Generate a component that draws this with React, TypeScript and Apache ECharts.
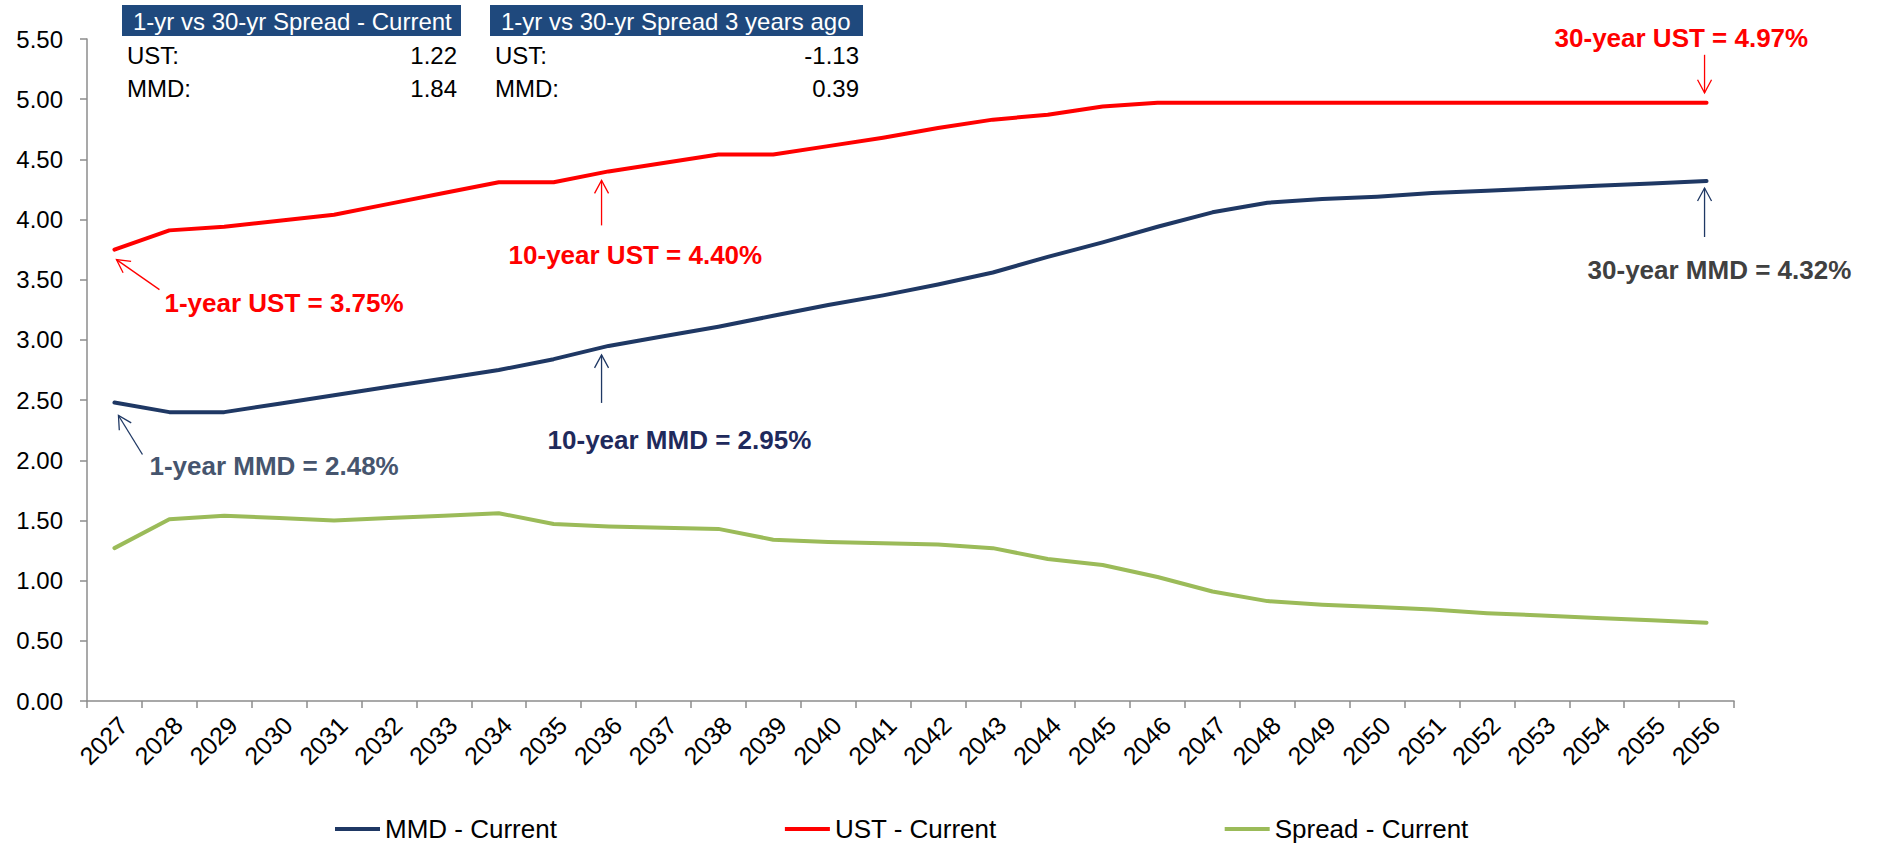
import React, { useEffect, useRef } from "react";
import * as echarts from "echarts";

const years = [
  "2027", "2028", "2029", "2030", "2031", "2032", "2033", "2034", "2035", "2036",
  "2037", "2038", "2039", "2040", "2041", "2042", "2043", "2044", "2045", "2046",
  "2047", "2048", "2049", "2050", "2051", "2052", "2053", "2054", "2055", "2056",
];

const mmdCurrent = [
  2.48, 2.4, 2.4, 2.47, 2.54, 2.61, 2.68, 2.75, 2.84, 2.95,
  3.03, 3.11, 3.2, 3.29, 3.37, 3.46, 3.56, 3.69, 3.81, 3.94,
  4.06, 4.14, 4.17, 4.19, 4.22, 4.24, 4.26, 4.28, 4.3, 4.32,
];

const ustCurrent = [
  3.75, 3.91, 3.94, 3.99, 4.04, 4.13, 4.22, 4.31, 4.31, 4.4,
  4.47, 4.54, 4.54, 4.61, 4.68, 4.76, 4.83, 4.87, 4.94, 4.97,
  4.97, 4.97, 4.97, 4.97, 4.97, 4.97, 4.97, 4.97, 4.97, 4.97,
];

const spreadCurrent = [
  1.27, 1.51, 1.54, 1.52, 1.5, 1.52, 1.54, 1.56, 1.47, 1.45,
  1.44, 1.43, 1.34, 1.32, 1.31, 1.3, 1.27, 1.18, 1.13, 1.03,
  0.91, 0.83, 0.8, 0.78, 0.76, 0.73, 0.71, 0.69, 0.67, 0.65,
];

const seriesNames = ["MMD - Current", "UST - Current", "Spread - Current"];
const seriesColors = ["#1f3864", "#ff0000", "#9bbb59"];

const tableHeaders = ["1-yr vs 30-yr Spread - Current", "1-yr vs 30-yr Spread 3 years ago"];
const tableRowLabels = ["UST:", "MMD:"];
const tableCurrentValues = [1.22, 1.84];
const tableThreeYearsAgoValues = [-1.13, 0.39];

const FONT = '"Liberation Sans", Arial, Helvetica, sans-serif';

// annotation styling: anchored to a data point, offsets in px
const annotations = [
  { series: 1, idx: 0, label: "1-year UST", color: "#ff0000", arrow: "#ff0000", tip: [2, 10], tail: [45, 40], text: [50, 53] },
  { series: 1, idx: 9, label: "10-year UST", color: "#ff0000", arrow: "#ff0000", tip: [-7, 9], tail: [-7, 54], text: [-100, 84] },
  { series: 1, idx: 29, label: "30-year UST", color: "#ff0000", arrow: "#ff0000", tip: [-2, -10], tail: [-2, -48], text: [-152, -65] },
  { series: 0, idx: 29, label: "30-year MMD", color: "#404040", arrow: "#1f3864", tip: [-2, 7], tail: [-2, 56], text: [-119, 89] },
  { series: 0, idx: 9, label: "10-year MMD", color: "#1f2a5c", arrow: "#1f3864", tip: [-7, 9], tail: [-7, 57], text: [-61, 94] },
  { series: 0, idx: 0, label: "1-year MMD", color: "#46556e", arrow: "#1f3864", tip: [4, 13], tail: [28, 52], text: [35, 64] },
];

function textEl(x: number, y: number, text: string, opts: any = {}) {
  const align = opts.align || "left";
  return {
    type: "text",
    x,
    y,
    silent: true,
    z: 100,
    style: {
      text,
      fill: opts.fill || "#000000",
      fontSize: opts.fontSize || 24,
      fontWeight: opts.fontWeight || "normal",
      fontFamily: FONT,
      align,
      textAlign: align,
      verticalAlign: "middle",
      textVerticalAlign: "middle",
    },
  };
}

export default function App() {
  const ref = useRef<HTMLDivElement>(null);

  useEffect(() => {
    if (!ref.current) return;
    const chart = echarts.init(ref.current, undefined, { renderer: "svg" });
    const seriesData = [mmdCurrent, ustCurrent, spreadCurrent];

    chart.setOption({
      animation: false,
      backgroundColor: "#ffffff",
      grid: {
        left: 87,
        right: 143,
        top: 39,
        bottom: 143,
        containLabel: false,
        outerBoundsMode: "none",
      },
      legend: {
        data: seriesNames.map((n) => ({ name: n, icon: "rect" })),
        left: 335,
        top: 814,
        padding: 0,
        itemWidth: 45,
        itemHeight: 4,
        itemGap: 228,
        textStyle: { fontSize: 26, fontFamily: FONT, color: "#000000", lineHeight: 30 },
      },
      xAxis: {
        type: "category",
        data: years,
        boundaryGap: true,
        axisLine: { show: true, lineStyle: { color: "#8c8c8c", width: 1.5 } },
        axisTick: { show: true, interval: 0, length: 7, lineStyle: { color: "#8c8c8c", width: 1.5 } },
        axisLabel: {
          interval: 0,
          rotate: 45,
          margin: 11,
          align: "right",
          verticalAlign: "top",
          fontSize: 25,
          fontFamily: FONT,
          color: "#000000",
        },
        splitLine: { show: false },
      },
      yAxis: {
        type: "value",
        min: 0,
        max: 5.5,
        interval: 0.5,
        axisLine: { show: true, lineStyle: { color: "#8c8c8c", width: 1.5 } },
        axisTick: { show: true, length: 7, lineStyle: { color: "#8c8c8c", width: 1.5 } },
        axisLabel: {
          margin: 24,
          fontSize: 24,
          fontFamily: FONT,
          color: "#000000",
          formatter: (v: number) => v.toFixed(2),
        },
        splitLine: { show: false },
      },
      series: seriesNames.map((name, i) => ({
        name,
        type: "line",
        data: seriesData[i],
        symbol: "none",
        smooth: false,
        color: seriesColors[i],
        lineStyle: { color: seriesColors[i], width: 4, cap: "round", join: "round" },
        z: 3 + i,
      })),
    });

    const graphics: any[] = [];

    // Tables
    const headerBoxes = [
      { x: 122, w: 339 },
      { x: 490, w: 373 },
    ];
    const tableValues = [tableCurrentValues, tableThreeYearsAgoValues];
    headerBoxes.forEach((b, t) => {
      graphics.push({
        type: "rect",
        silent: true,
        z: 90,
        shape: { x: b.x, y: 5, width: b.w, height: 31 },
        style: { fill: "#1f497d" },
      });
      graphics.push(textEl(b.x + 11, 21, tableHeaders[t], { fill: "#ffffff", fontSize: 24 }));
      tableRowLabels.forEach((lab, r) => {
        const y = 55 + r * 33;
        graphics.push(textEl(b.x + 5, y, lab, { fontSize: 24 }));
        graphics.push(textEl(b.x + b.w - 4, y, tableValues[t][r].toFixed(2), { fontSize: 24, align: "right" }));
      });
    });

    // Annotations anchored to data points
    annotations.forEach((a) => {
      const val = seriesData[a.series][a.idx];
      const p = chart.convertToPixel({ seriesIndex: a.series }, [a.idx, val]) as number[];
      if (!p) return;
      const tip = [p[0] + a.tip[0], p[1] + a.tip[1]];
      const tail = [p[0] + a.tail[0], p[1] + a.tail[1]];
      const dx = tip[0] - tail[0];
      const dy = tip[1] - tail[1];
      const len = Math.sqrt(dx * dx + dy * dy) || 1;
      const ux = dx / len;
      const uy = dy / len;
      const nx = -uy;
      const ny = ux;
      const L = 13;
      const W = 7;
      graphics.push({
        type: "line",
        silent: true,
        z: 95,
        shape: { x1: tail[0], y1: tail[1], x2: tip[0], y2: tip[1] },
        style: { stroke: a.arrow, lineWidth: 1.3 },
      });
      graphics.push({
        type: "polyline",
        silent: true,
        z: 95,
        shape: {
          points: [
            [tip[0] - ux * L + nx * W, tip[1] - uy * L + ny * W],
            [tip[0], tip[1]],
            [tip[0] - ux * L - nx * W, tip[1] - uy * L - ny * W],
          ],
        },
        style: { stroke: a.arrow, lineWidth: 1.3, fill: "none" },
      });
      graphics.push(
        textEl(p[0] + a.text[0], p[1] + a.text[1], `${a.label} = ${val.toFixed(2)}%`, {
          fill: a.color,
          fontSize: 26,
          fontWeight: "bold",
        })
      );
    });

    chart.setOption({ graphic: { elements: graphics } });

    return () => {
      chart.dispose();
    };
  }, []);

  return (
    <div
      ref={ref}
      style={{ position: "absolute", left: 0, top: 0, width: 1877, height: 844, background: "#ffffff" }}
    />
  );
}
